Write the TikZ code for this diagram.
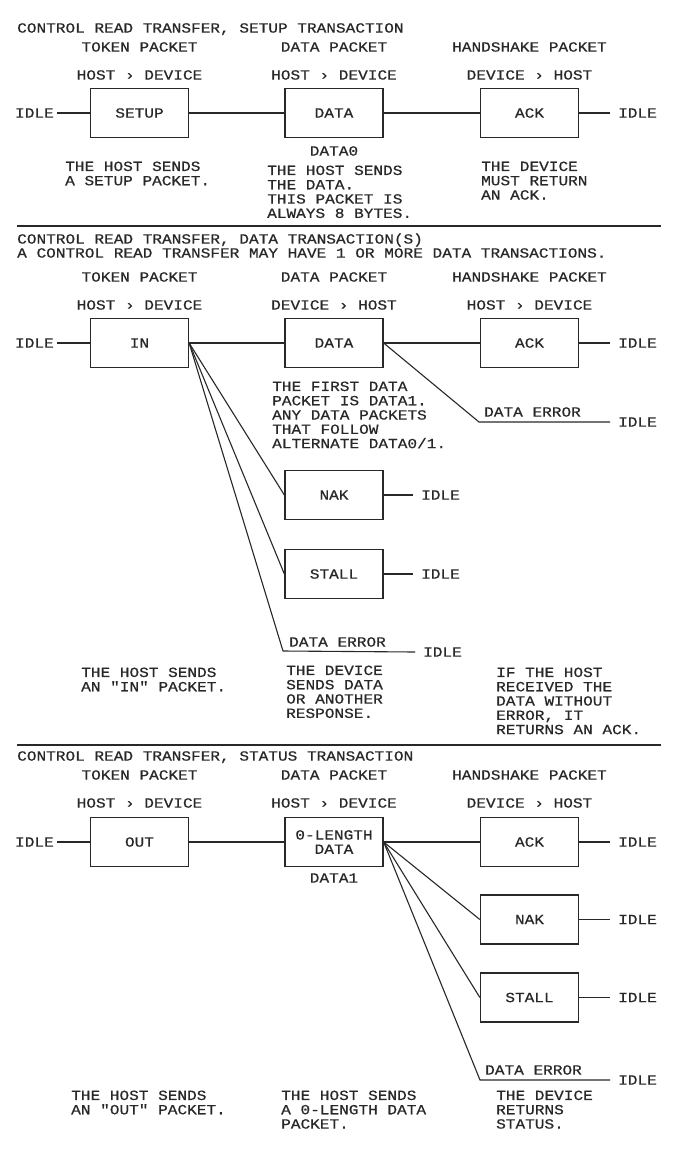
\documentclass[tikz,border=0pt]{standalone}
\usepackage{fontspec}
\newfontfamily\plotfont[FakeStretch=1.15,FakeBold=0.6,Ligatures=TeXOff]{Liberation Mono}
\definecolor{ink}{RGB}{40,40,40}
\begin{document}
\begin{tikzpicture}[x=1pt,y=-1pt,
  every node/.style={font={\plotfont\fontsize{14}{14.3}\selectfont}, text=ink, inner sep=0pt},
  pkt/.style={draw=ink, line width=1.3pt, minimum width=98pt, minimum height=49pt, align=center},
  ln/.style={anchor=base west},
  lc/.style={anchor=base},
  para/.style={anchor=north west, align=left},
  idleL/.style={anchor=east, inner xsep=3pt},
  idleR/.style={anchor=west, inner xsep=8pt},
  wire/.style={draw=ink, line width=1.1pt},
  rule/.style={draw=ink, line width=1.2pt}]
\useasboundingbox[fill=white] (0,0) rectangle (684,1154);

% ---------------- Section 1 ----------------
\node[ln] (s1title) at (17,32.6) {CONTROL READ TRANSFER, SETUP TRANSACTION};
\node[lc] (s1h1) at (139.5,51.6) {TOKEN PACKET};
\node[lc] (s1h2) at (334,51.6) {DATA PACKET};
\node[lc] (s1h3) at (529.5,51.6) {HANDSHAKE PACKET};
\node[lc] (s1d1) at (139.5,79.6) {HOST › DEVICE};
\node[lc] (s1d2) at (334,79.6) {HOST › DEVICE};
\node[lc] (s1d3) at (529.5,79.6) {DEVICE › HOST};
\node[pkt] (setup) at (139.5,113) {SETUP};
\node[pkt] (data1) at (334,113) {DATA};
\node[pkt] (ack1) at (529.5,113) {ACK};
\node[idleL] (i1L) at (57,113) {IDLE};
\node[idleR] (i1R) at (610,113) {IDLE};
\draw[wire] (i1L) -- (setup) -- (data1) -- (ack1) -- (i1R);
\node[lc] (d0) at (334,155.6) {DATA0};
\node[para] (p1a) at (65,161.4) {THE HOST SENDS\\A SETUP PACKET.};
\node[para] (p1b) at (267,165.4) {THE HOST SENDS\\THE DATA.\\THIS PACKET IS\\ALWAYS 8 BYTES.};
\node[para] (p1c) at (481,161.4) {THE DEVICE\\MUST RETURN\\AN ACK.};
\coordinate (r1a) at (17,226);
\coordinate (r1b) at (661,226);
\draw[rule] (r1a) -- (r1b);

% ---------------- Section 2 ----------------
\node[ln] (s2title) at (17,243.6) {CONTROL READ TRANSFER, DATA TRANSACTION(S)};
\node[ln] (s2sub) at (17,257.6) {A CONTROL READ TRANSFER MAY HAVE 1 OR MORE DATA TRANSACTIONS.};
\node[lc] (s2h1) at (139.5,281.6) {TOKEN PACKET};
\node[lc] (s2h2) at (334,281.6) {DATA PACKET};
\node[lc] (s2h3) at (529.5,281.6) {HANDSHAKE PACKET};
\node[lc] (s2d1) at (139.5,309.6) {HOST › DEVICE};
\node[lc] (s2d2) at (334,309.6) {DEVICE › HOST};
\node[lc] (s2d3) at (529.5,309.6) {HOST › DEVICE};
\node[pkt] (in) at (139.5,343) {IN};
\node[pkt] (data2) at (334,343) {DATA};
\node[pkt] (ack2) at (529.5,343) {ACK};
\node[idleL] (i2L) at (57,343) {IDLE};
\node[idleR] (i2R) at (610,343) {IDLE};
\draw[wire] (i2L) -- (in) -- (data2) -- (ack2) -- (i2R);
\node[para] (p2d) at (272,381.4) {THE FIRST DATA\\PACKET IS DATA1.\\ANY DATA PACKETS\\THAT FOLLOW\\ALTERNATE DATA0/1.};
% data error after data packet
\coordinate (de2a) at (479,422);
\node[ln] (de2aL) at (484,416.6) {DATA ERROR};
\node[idleR] (i2E) at (610,422) {IDLE};
\draw[wire] (data2.east) -- (de2a) -- (i2E.west);
% responses from device
\node[pkt] (nak2) at (334,495) {NAK};
\node[pkt] (stall2) at (334,574) {STALL};
\node[idleR] (i2N) at (413,495) {IDLE};
\node[idleR] (i2S) at (413,574) {IDLE};
\draw[wire] (nak2) -- (i2N);
\draw[wire] (stall2) -- (i2S);
\coordinate (de2b) at (283,651);
\node[ln] (de2bL) at (289,646.6) {DATA ERROR};
\node[idleR] (i2F) at (415,652) {IDLE};
\draw[wire] (in.east) -- (nak2.west);
\draw[wire] (in.east) -- (stall2.west);
\draw[wire] (in.east) -- (de2b) -- (i2F.west);
\node[para] (p2a) at (81,667.4) {THE HOST SENDS\\AN "IN" PACKET.};
\node[para] (p2b) at (286,665.4) {THE DEVICE\\SENDS DATA\\OR ANOTHER\\RESPONSE.};
\node[para] (p2c) at (496,667.4) {IF THE HOST\\RECEIVED THE\\DATA WITHOUT\\ERROR, IT\\RETURNS AN ACK.};
\coordinate (r2a) at (17,745);
\coordinate (r2b) at (661,745);
\draw[rule] (r2a) -- (r2b);

% ---------------- Section 3 ----------------
\node[ln] (s3title) at (17,760.6) {CONTROL READ TRANSFER, STATUS TRANSACTION};
\node[lc] (s3h1) at (139.5,779.6) {TOKEN PACKET};
\node[lc] (s3h2) at (334,779.6) {DATA PACKET};
\node[lc] (s3h3) at (529.5,779.6) {HANDSHAKE PACKET};
\node[lc] (s3d1) at (139.5,807.6) {HOST › DEVICE};
\node[lc] (s3d2) at (334,807.6) {HOST › DEVICE};
\node[lc] (s3d3) at (529.5,807.6) {DEVICE › HOST};
\node[pkt] (out) at (139.5,842) {OUT};
\node[pkt] (zld) at (334,842) {0-LENGTH\\DATA};
\node[pkt] (ack3) at (529.5,842) {ACK};
\node[idleL] (i3L) at (57,842) {IDLE};
\node[idleR] (i3R) at (610,842) {IDLE};
\draw[wire] (i3L) -- (out) -- (zld) -- (ack3) -- (i3R);
\node[lc] (d1) at (334,882.6) {DATA1};
\node[pkt] (nak3) at (529.5,919.5) {NAK};
\node[pkt] (stall3) at (529.5,997.5) {STALL};
\node[idleR] (i3N) at (610,919.5) {IDLE};
\node[idleR] (i3S) at (610,997.5) {IDLE};
\draw[wire] (nak3) -- (i3N);
\draw[wire] (stall3) -- (i3S);
\coordinate (de3) at (480,1080);
\node[ln] (de3L) at (485,1074.6) {DATA ERROR};
\node[idleR] (i3E) at (610,1080) {IDLE};
\draw[wire] (zld.east) -- (nak3.west);
\draw[wire] (zld.east) -- (stall3.west);
\draw[wire] (zld.east) -- (de3) -- (i3E.west);
\node[para] (p3a) at (71,1090.4) {THE HOST SENDS\\AN "OUT" PACKET.};
\node[para] (p3b) at (281,1090.4) {THE HOST SENDS\\A 0-LENGTH DATA\\PACKET.};
\node[para] (p3c) at (496,1090.4) {THE DEVICE\\RETURNS\\STATUS.};
\end{tikzpicture}
\end{document}
